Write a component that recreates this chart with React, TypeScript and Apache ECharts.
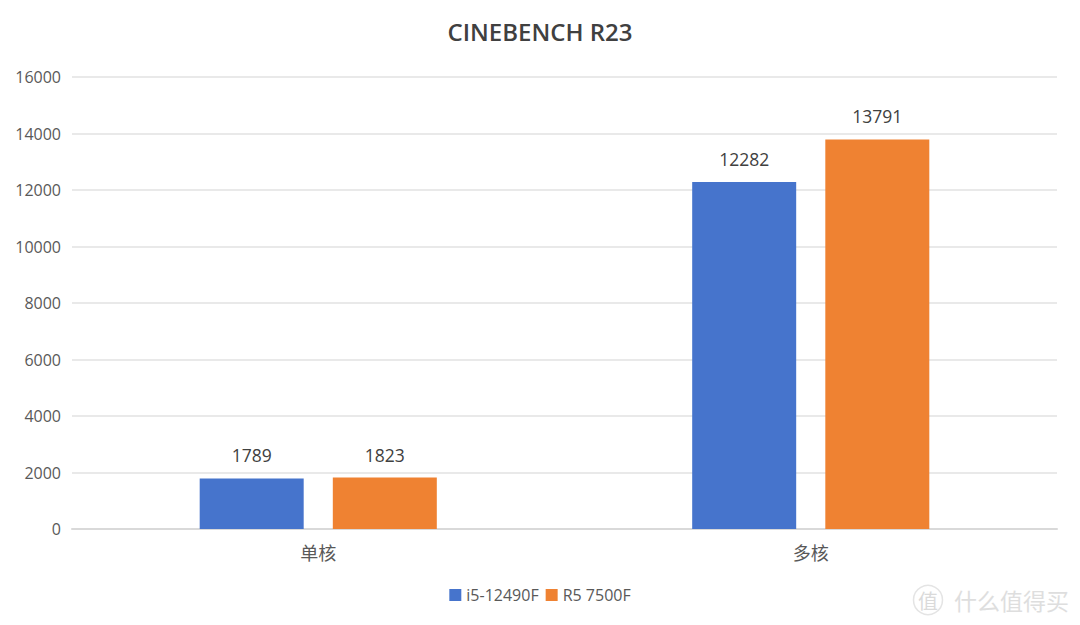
import React, { useEffect, useRef } from "react";
import * as echarts from "echarts";

const categories = ["单核", "多核"];
const seriesNames = ["i5-12490F", "R5 7500F"];
const intelValues = [1789, 12282];
const amdValues = [1823, 13791];
const colors = ["#4674CC", "#EF8232"];
const FONT = "'Noto Sans CJK SC', 'Open Sans', sans-serif";

export default function App() {
  const ref = useRef<HTMLDivElement>(null);
  useEffect(() => {
    const chart = echarts.init(ref.current!, undefined, { renderer: "svg" });
    const mk = (name: string, data: number[], color: string) => ({
      name,
      type: "bar",
      data,
      barWidth: 104,
      barGap: "28%",
      itemStyle: { color },
      label: {
        show: true,
        position: "top",
        distance: 14,
        color: "#404040",
        fontSize: 17.5,
        fontFamily: "Open Sans",
      },
    });
    chart.setOption({
      animation: false,
      backgroundColor: "#fff",
      title: {
        text: "CINEBENCH R23",
        left: "center",
        top: 14,
        textStyle: { color: "#404040", fontSize: 24, fontWeight: 600, fontFamily: "Open Sans" },
      },
      legend: {
        bottom: 17,
        left: "center",
        itemWidth: 12,
        itemHeight: 12,
        itemGap: 7,
        data: seriesNames,
        icon: "rect",
        textStyle: { color: "#595959", fontSize: 16, fontFamily: "Open Sans" },
      },
      grid: { left: 72, right: 23, top: 77, bottom: 96 },
      xAxis: {
        type: "category",
        data: categories,
        axisTick: { show: false },
        axisLine: { lineStyle: { color: "#D9D9D9", width: 2 } },
        axisLabel: { color: "#595959", fontSize: 18, margin: 14, fontFamily: FONT },
      },
      yAxis: {
        type: "value",
        min: 0,
        max: 16000,
        interval: 2000,
        axisLine: { show: false },
        axisTick: { show: false },
        splitLine: { lineStyle: { color: "#E2E2E2", width: 1.5 } },
        axisLabel: {
          color: "#595959",
          fontSize: 16,
          margin: 11,
          fontFamily: "Open Sans",
          formatter: (v: number) => String(v),
        },
      },
      series: [mk(seriesNames[0], intelValues, colors[0]), mk(seriesNames[1], amdValues, colors[1])],
      graphic: [
        {
          type: "circle",
          shape: { cx: 928, cy: 600, r: 14.5 },
          style: { fill: "none", stroke: "#E4E4E4", lineWidth: 1.5 },
        },
        {
          type: "text",
          x: 928,
          y: 600,
          style: { text: "值", fontSize: 20, fill: "#DADADA", fontFamily: FONT, align: "center", verticalAlign: "middle" },
        },
        {
          type: "text",
          x: 954,
          y: 600,
          style: { text: "什么值得买", fontSize: 23, fill: "#DEDEDE", fontFamily: FONT, verticalAlign: "middle" },
        },
      ],
    });
    return () => chart.dispose();
  }, []);
  return <div ref={ref} style={{ width: 1080, height: 625, position: "absolute", left: 0, top: 0 }} />;
}
